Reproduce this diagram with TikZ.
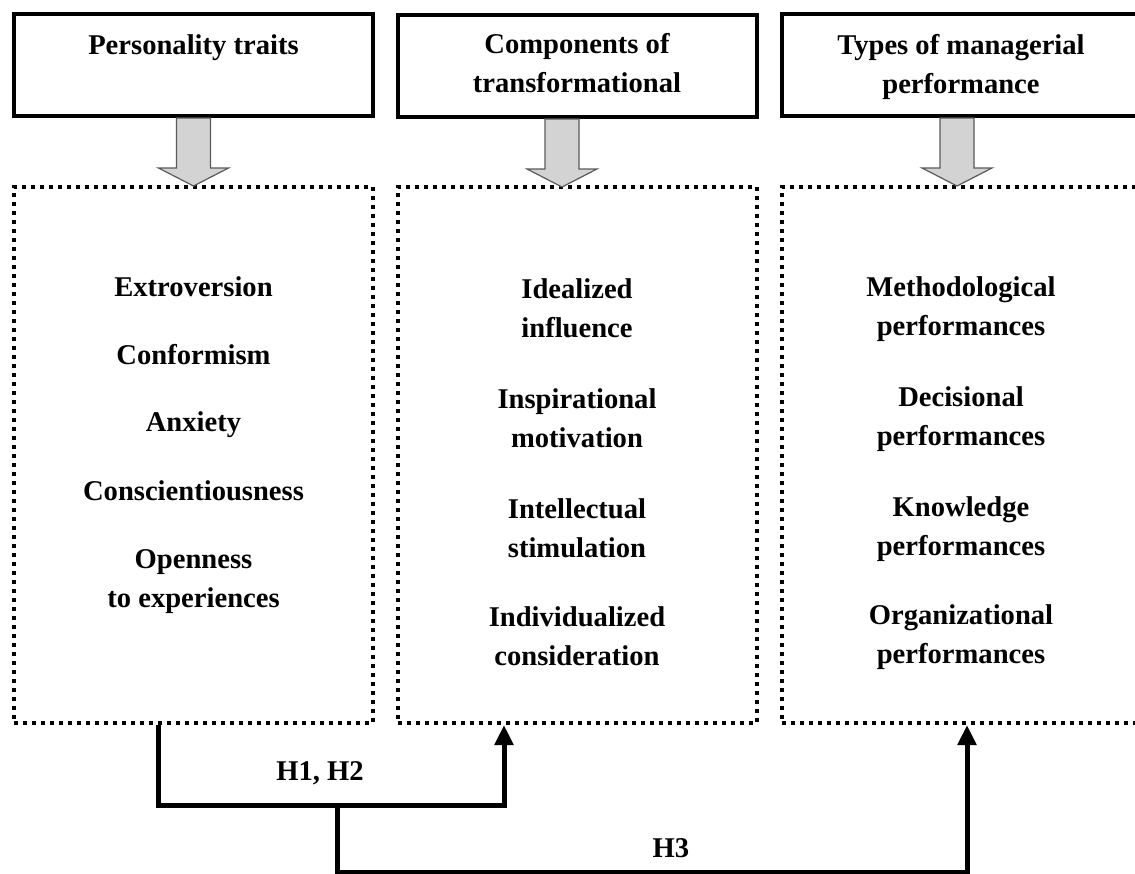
\documentclass[tikz,border=0pt]{standalone}
\usepackage{fontspec}
\setmainfont{Liberation Serif}
\usetikzlibrary{arrows.meta}
\definecolor{lightsilver}{RGB}{211, 211, 211}
\definecolor{ashgray}{RGB}{90, 90, 90}

\tikzset{
  headbox/.style={draw, line width=4pt, minimum width=359pt, minimum height=102pt, inner sep=0pt},
  itembox/.style={draw, line width=4pt, dash pattern=on 4pt off 5pt, minimum width=359pt, minimum height=536pt, inner sep=0pt},
  txt/.style={font=\bfseries\fontsize{28.6}{39}\selectfont, align=center, anchor=base, inner sep=0pt},
  link/.style={line width=5pt},
  tip/.style={-{Triangle[width=18pt,length=20pt]}},
  grayarrow/.style={draw=ashgray, fill=lightsilver, line width=1.2pt}
}
% gray block arrow below a head box: #1 node, #2 shift of its axis
\newcommand{\grayarrow}[2]{%
  \filldraw[grayarrow] ([xshift=#2]#1.south) ++(-17,0) -- ++(0,50) -- ++(-18,0)
    -- ++(35,18) -- ++(35,-18) -- ++(-18,0) -- ++(0,-50) -- cycle;}

\begin{document}
\begin{tikzpicture}[x=1pt,y=-1pt]
  \path[use as bounding box, clip] (0,0) rectangle (1135,873);

  % head boxes (a text is placed by its last baseline)
  \node[headbox] (pershead) at (193.5,65) {};
  \node[headbox] (comphead) at (577.0,66) {};
  \node[headbox] (perfhead) at (961.0,65) {};
  \node[txt] (perstitle) at ([yshift=-42pt]pershead.north) {Personality traits};
  \node[txt] (comptitle) at ([yshift=-79pt]comphead.north) {Components of\\transformational};
  \node[txt] (perftitle) at ([yshift=-81pt]perfhead.north) {Types of managerial\\performance};

  % dotted boxes
  \node[itembox] (persbox) at (193.5,455) {};
  \node[itembox] (compbox) at (577.0,455) {};
  \node[itembox] (perfbox) at (961.0,455) {};

  \grayarrow{pershead}{0pt}
  \grayarrow{comphead}{-15pt}
  \grayarrow{perfhead}{-4pt}

  % personality traits
  \node[txt] (extro)  at (193.5,296) {Extroversion};
  \node[txt] (confo)  at (193.5,364) {Conformism};
  \node[txt] (anxie)  at (193.5,431) {Anxiety};
  \node[txt] (consc)  at (193.5,500) {Conscientiousness};
  \node[txt] (openn)  at (193.5,607) {Openness\\to experiences};

  % components
  \node[txt] (ideal)  at (577.0,337) {Idealized\\influence};
  \node[txt] (inspi)  at (577.0,447) {Inspirational\\motivation};
  \node[txt] (intel)  at (577.0,557) {Intellectual\\stimulation};
  \node[txt] (indiv)  at (577.0,665) {Individualized\\consideration};

  % performances
  \node[txt] (metho)  at (961.0,335) {Methodological\\performances};
  \node[txt] (decis)  at (961.0,445) {Decisional\\performances};
  \node[txt] (knowl)  at (961.0,555) {Knowledge\\performances};
  \node[txt] (organ)  at (961.0,663) {Organizational\\performances};

  % hypotheses
  \coordinate (hjoin) at (337,805);
  \draw[link,tip] ([xshift=-35.5pt]persbox.south) -- ++(0,80) -| ([xshift=-73pt]compbox.south);
  \draw[link,tip] (hjoin) -- ++(0,67) -| ([xshift=6pt]perfbox.south);
  \node[txt] (hlabA) at (320,780) {H1, H2};
  \node[txt] (hlabB) at (671,857) {H3};
\end{tikzpicture}
\end{document}
